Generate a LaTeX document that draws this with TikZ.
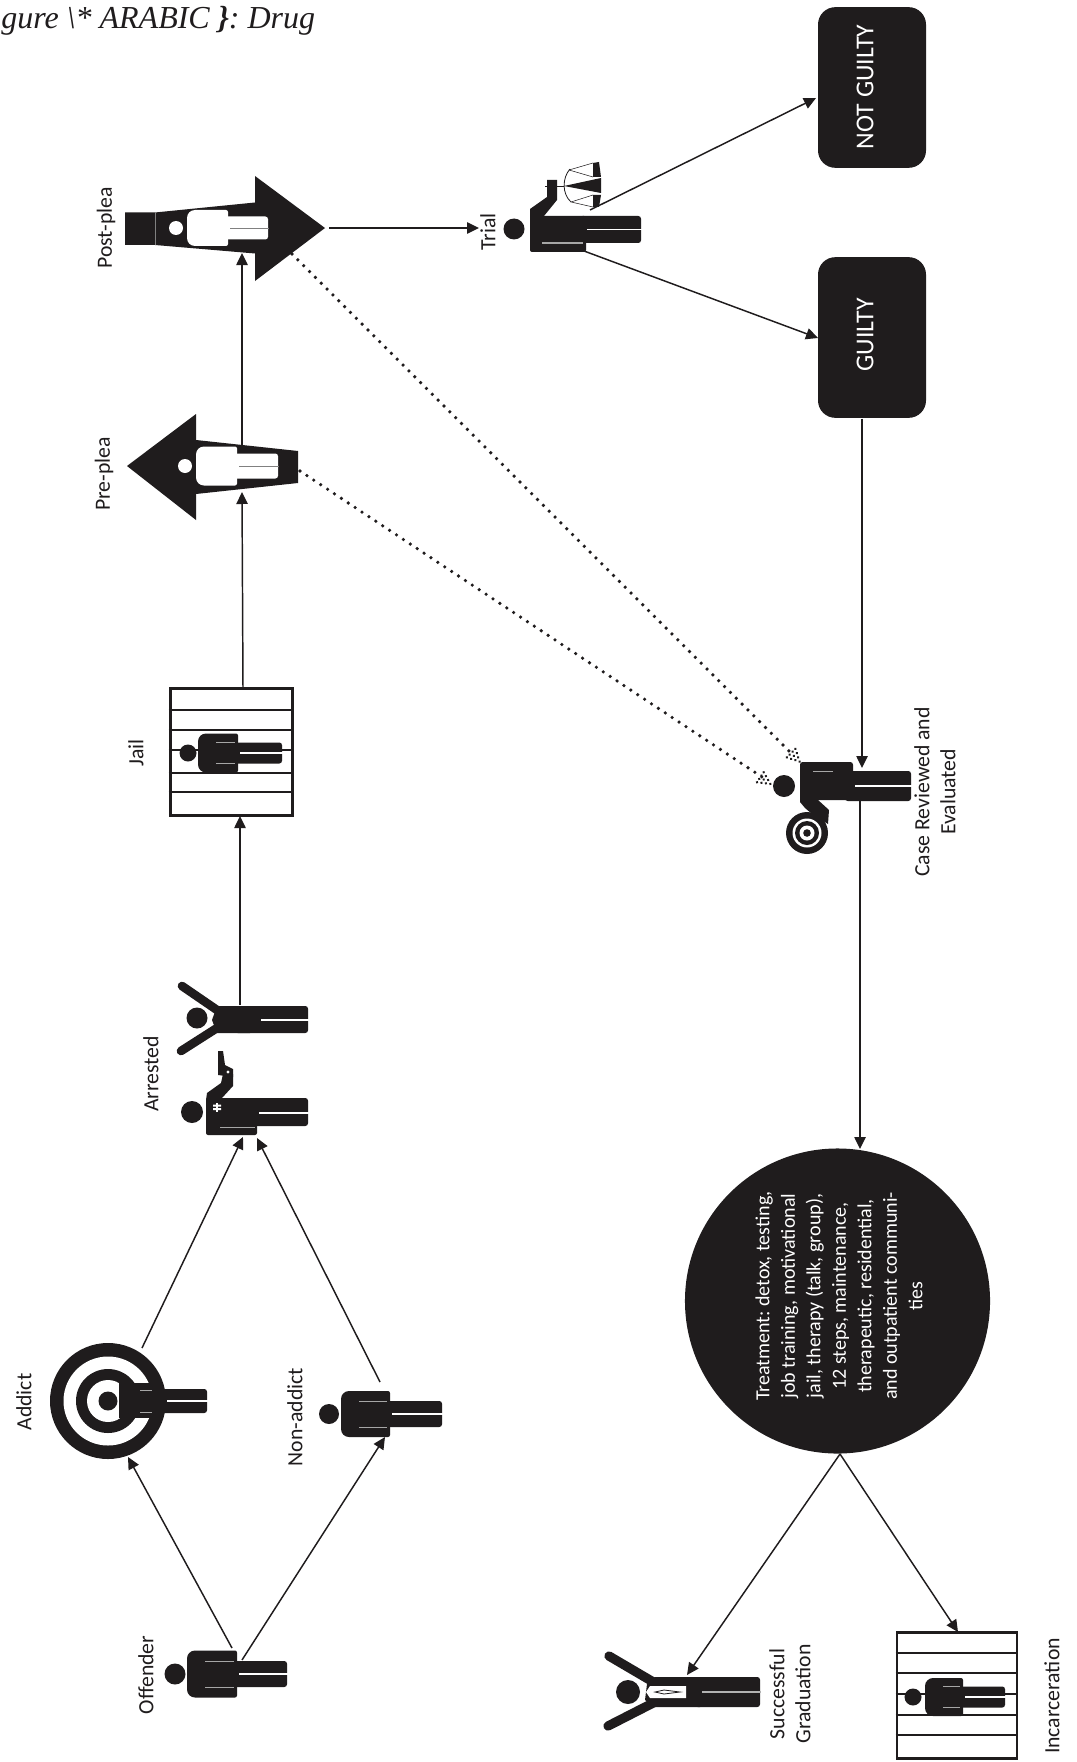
\documentclass[tikz,border=0pt]{standalone}
\usepackage{fontspec}
\setmainfont{Carlito}
\newfontfamily\captfont{Liberation Serif}
\usetikzlibrary{arrows.meta}
\definecolor{ink}{HTML}{1F1C1D}
\newcommand{\person}[9][ink]{%
  \fill[#1] (#2,#3) circle (#4);
  \fill[#1,rounded corners=6pt] (#6,{#3-#7}) [rounded corners=6pt] -- (#5,{#3-#7}) -- (#5,{#3+#7}) [rounded corners=1.5pt] -- (#6,{#3+#7}) -- cycle;
  \fill[#1,rounded corners=2pt] ({#6-5},{#3-#9}) rectangle (#8,{#3+#9});
  \draw[slit] ({#5+18},{#3-#9}) -- ({#6-3},{#3-#9}) ({#5+18},{#3+#9}) -- ({#6-3},{#3+#9});
  \draw[gap] ({#6+2},#3) -- ({#8+1},#3);
}
\newcommand{\stipple}[2]{%
  \begin{scope}[shift={(#1)},rotate=#2]
    \foreach \d/\n in {2/0,6/1,10/2,14/3}{
      \foreach \k in {0,...,\n}{
        \fill[ink] ({-\d*0.75pt},{(\k-\n/2)*3pt}) circle (1.05pt);
      }
    }
  \end{scope}
}
\tikzset{
  x=0.75pt,y=-0.75pt,
  slit/.style={draw=gray!70,line width=0.6pt},
  gap/.style={draw=white,line width=1.3pt},
  conn/.style={draw=ink,line width=1.1pt,-{Triangle[length=9pt,width=8.5pt]},shorten >=0pt},
  dotted conn/.style={draw=ink,line width=2.7pt,line cap=round,dash pattern=on 0pt off 6.2pt},
  lab/.style={rotate=90,font=\fontsize{16.3}{19.5}\selectfont,text=ink,inner sep=0pt,align=center},
  verdict/.style={fill=ink,rounded corners=13pt,minimum width=81pt,minimum height=120.5pt,inner sep=0pt},
  vlab/.style={rotate=90,font=\fontsize{19.3}{21}\selectfont,text=white,inner sep=0pt},
  jailbox/.style={draw=ink,line width=2.2pt,minimum width=92pt,minimum height=95pt,inner sep=0pt},
  bar/.style={draw=ink,line width=1.9pt},
  limb/.style={draw=ink,line width=6.5pt,line cap=round},
}
\begin{document}
\begin{tikzpicture}
\useasboundingbox (0,0) rectangle (1077,1762);
\fill[white] (0,0) rectangle (1077,1762);

% caption
\node[anchor=base west,inner sep=0pt,font=\captfont\itshape\fontsize{24}{26}\selectfont,text=ink] (caption) at (1,29) {gure \textbackslash* ARABIC \textbf{\}}: Drug};

% ---------- labels
\node[lab] (lOffender) at (146,1675) {Offender};
\node[lab] (lAddict) at (24,1402) {Addict};
\node[lab] (lNon) at (295,1417) {Non-addict};
\node[lab] (lArrested) at (151,1074) {Arrested};
\node[lab] (lJail) at (136,753) {Jail};
\node[lab] (lPre) at (104,474) {Pre-plea};
\node[lab] (lPost) at (106,228) {Post-plea};
\node[lab] (lTrial) at (488,232) {Trial};
\node[lab] (lCase) at (935,792) {Case Reviewed and\\Evaluated};
\node[lab] (lGrad) at (790,1694) {Successful\\Graduation};
\node[lab] (lInc) at (1052,1696) {Incarceration};

% ---------- verdict boxes
\node[verdict] (notguilty) at (872,87.5) {};
\node[vlab] (tNot) at (865,87) {NOT GUILTY};
\node[verdict] (guilty) at (872,337.5) {};
\node[vlab] (tGuilty) at (865,335) {GUILTY};

% ---------- treatment
\node[circle,fill=ink,minimum size=228.8pt,inner sep=0pt] (treat) at (837.5,1301) {};
\node[rotate=90,text=white,inner sep=0pt,align=center,font=\frenchspacing\fontsize{15}{19.1}\selectfont] (tTreat) at (839,1296) {Treatment: detox, testing,\\job training, motivational\\jail, therapy (talk, group),\\12 steps, maintenance,\\therapeutic, residential,\\and outpatient communi-\\ties};

% ---------- Offender
\person{175}{1674}{10.5}{187}{237}{23.5}{287}{13}
% ---------- Non-addict
\person{329}{1414}{10}{341}{390}{23}{442}{13}
% ---------- Addict
\fill[ink] (108,1401) circle (58);
\fill[white] (108,1401) circle (44.5);
\fill[ink] (108,1401) circle (32);
\fill[white] (108,1401) circle (21);
\fill[ink] (108,1401) circle (9.5);
\fill[ink] (119,1383) rectangle (160,1418);
\fill[ink] (120,1375) rectangle (126,1427);
\fill[ink,rounded corners=2pt] (160,1389) rectangle (207,1413);
\draw[gap] (167,1401) -- (208,1401);
\draw[slit] (140,1390) -- (152,1390) (140,1412) -- (152,1412);

% ---------- Police
\fill[ink] (192,1112) circle (11);
\fill[ink,rounded corners=1.5pt] (206,1098) rectangle (257,1135);
\fill[ink,rounded corners=2pt] (250,1098) rectangle (308,1126);
\fill[ink] (206,1100) -- (207,1093) -- (221,1083) -- (223,1074) -- (233,1074) -- (233,1086) -- (222,1098) -- cycle;
\fill[ink] (218,1051) -- (223,1051) -- (225,1065) -- (233,1069) -- (233,1077) -- (218,1075) -- cycle;
\fill[white] (228,1072) circle (1.6);
\draw[gap] (259,1113) -- (309,1113);
\draw[slit] (220,1127) -- (255,1127);
\fill[white] (213,1104.5) rectangle (221,1106.5) (213,1108) rectangle (221,1110);
\fill[white] (216,1102.5) rectangle (218,1112);

% ---------- Hands up
\fill[ink] (197,1018) circle (10.5);
\draw[limb] (182,986) -- (217,1010);
\draw[limb] (181,1051) -- (217,1028);
\fill[ink] (217,1006) -- (225,1006) -- (250,1006) -- (250,1033) -- (217,1033) -- (212,1020) -- cycle;
\fill[ink,rounded corners=2pt] (235,1006) rectangle (308,1033);
\draw[gap] (261,1020) -- (309,1020);

% ---------- Jail
\node[jailbox] (jail) at (231.5,752) {};
\foreach \yy in {710,730,750,773,792}{\draw[bar] (jail.west |- 0,\yy) -- (jail.east |- 0,\yy);}
\person{188}{753}{8.5}{198}{238}{19.5}{282}{10.5}

% ---------- Incarceration
\node[jailbox,minimum width=90pt] (incarc) at (957,1695.5) {};
\foreach \yy in {1653,1673,1694,1715,1735}{\draw[bar] (incarc.west |- 0,\yy) -- (incarc.east |- 0,\yy);}
\person{913}{1697}{8.5}{925}{963}{19}{1005}{10.5}

% ---------- Pre-plea arrow
\fill[ink] (127,466) -- (196,414) -- (196,440) -- (298,451) -- (298,483) -- (196,494) -- (196,520) -- cycle;
\begin{scope}[slit/.style={draw=none},gap/.style={draw=gray,line width=.6pt}]
\person[white]{185}{466}{7}{196}{237}{19.5}{278}{12.5}
\end{scope}

% ---------- Post-plea arrow
\fill[ink] (125,212.5) -- (155,212.5) -- (255,202.5) -- (255,176) -- (325,228) -- (255,281) -- (255,253.5) -- (155,245) -- (125,245) -- cycle;
\draw[gray,line width=.3pt] (155,212.5) -- (155,245);
\begin{scope}[slit/.style={draw=none},gap/.style={draw=gray,line width=.6pt}]
\person[white]{176}{228}{7}{187}{228}{18}{268}{11.5}
\end{scope}

% ---------- Trial
\fill[ink] (514,229) circle (10.5);
\fill[ink,rounded corners=1.5pt] (530,216) rectangle (586,252);
\fill[ink,rounded corners=2pt] (580,216) rectangle (641,243);
\fill[ink] (530,218) -- (530,209) -- (547,197) -- (547,180) -- (557,180) -- (557,200) -- (544,216) -- cycle;
\draw[gap] (587,229.5) -- (642,229.5);
\draw[slit,line width=.9pt] (542,243) -- (583,243);
\draw[ink,line width=.4pt] (545,186) -- (564,186);
\fill[ink] (564,186) -- (601,178) -- (601,193) -- cycle;
\fill[ink] (593,163) -- (599,162) -- (601,177) -- (593,177) -- cycle;
\fill[ink] (593,195) -- (601,195) -- (599,207) -- (593,207) -- cycle;
\draw[ink,line width=.4pt] (569,170) -- (593,163) (569,170) -- (593,177) (571,202) -- (593,195) (571,202) -- (593,207);
\draw[ink,line width=.6pt] (570,169) .. controls (562,178) and (562,194) .. (571,202);

% ---------- Case reviewed
\fill[ink] (784,786) circle (11);
\fill[ink,rounded corners=2pt] (800,762) rectangle (853,800);
\fill[ink,rounded corners=2pt] (845,771) rectangle (911,801);
\draw[gap] (855,786) -- (912,786);
\draw[slit] (813,771) -- (833,771);
\fill[ink] (800,797) -- (800,802) -- (805,808) -- (812,814) -- (828,824) -- (829,810) -- (818,800) -- cycle;
\fill[ink] (807,833) circle (21);
\fill[white] (807,833) circle (14.5);
\fill[ink] (807,833) circle (12);
\fill[white] (807,833) circle (7.5);
\fill[ink] (807,833) circle (3.8);

% ---------- Graduate
\fill[ink] (628,1692) circle (12);
\draw[limb,line width=7pt] (609,1656) -- (655,1683);
\draw[limb,line width=7pt] (608,1726) -- (655,1702);
\fill[ink] (655,1677) -- (700,1677) -- (700,1707) -- (655,1707) -- (645,1700) -- (647,1684) -- cycle;
\fill[ink,rounded corners=2pt] (695,1677) rectangle (760,1707);
\draw[slit,line width=1.4pt,draw=gray!60] (702,1692) -- (761,1692);
\fill[white] (650,1686) -- (686,1686) -- (686,1698) -- (650,1698) -- (646,1692) -- cycle;
\draw[ink,line width=.6pt] (655,1692) -- (664,1690) -- (680,1692) -- (664,1694) -- cycle;

% ---------- connector ends
\coordinate (offA) at (232,1648);
\coordinate (offB) at (242,1660);
\coordinate (addictIn) at (128,1457);
\coordinate (nonIn) at (385,1437);
\coordinate (addictOut) at (142,1348);
\coordinate (nonOut) at (380,1382);
\coordinate (policeA) at (243,1137);
\coordinate (policeB) at (257,1138);
\coordinate (handsOut) at (240,1005);
\coordinate (jailIn) at (240,816);
\coordinate (jailOut) at (243,689);
\coordinate (preIn) at (242,492);
\coordinate (preOut) at (242,446);
\coordinate (postIn) at (242,253);
\coordinate (postOut) at (329,228);
\coordinate (trialIn) at (479,228);
\coordinate (trialA) at (590,210);
\coordinate (trialB) at (584,251);
\coordinate (ngIn) at (816,98);
\coordinate (gIn) at (818,338);
\coordinate (gOut) at (862,418.5);
\coordinate (caseIn) at (862,768);
\coordinate (caseOut) at (860,800);
\coordinate (treatIn) at (860,1149);
\coordinate (treatOut) at (840,1454);
\coordinate (gradIn) at (687,1675);
\coordinate (incIn) at (958,1632);
\coordinate (preTail) at (300,471);
\coordinate (postTail) at (292,254);
\coordinate (caseA) at (762,777);
\coordinate (caseB) at (792,754);

% ---------- connectors
\draw[conn] (offA) -- (addictIn);
\draw[conn] (offB) -- (nonIn);
\draw[conn] (addictOut) -- (policeA);
\draw[conn] (nonOut) -- (policeB);
\draw[conn] (handsOut) -- (jailIn);
\draw[conn] (jailOut) -- (preIn);
\draw[conn] (preOut) -- (postIn);
\draw[conn] (postOut) -- (trialIn);
\draw[conn] (trialA) -- (ngIn);
\draw[conn] (trialB) -- (gIn);
\draw[conn] (gOut) -- (caseIn);
\draw[conn] (caseOut) -- (treatIn);
\draw[conn] (treatOut) -- (gradIn);
\draw[conn] (treatOut) -- (incIn);
\draw[dotted conn] (preTail) -- (caseA);
\draw[dotted conn] (postTail) -- (caseB);
\stipple{772,785}{-33.6}
\stipple{801,763}{-45}
\end{tikzpicture}
\end{document}
